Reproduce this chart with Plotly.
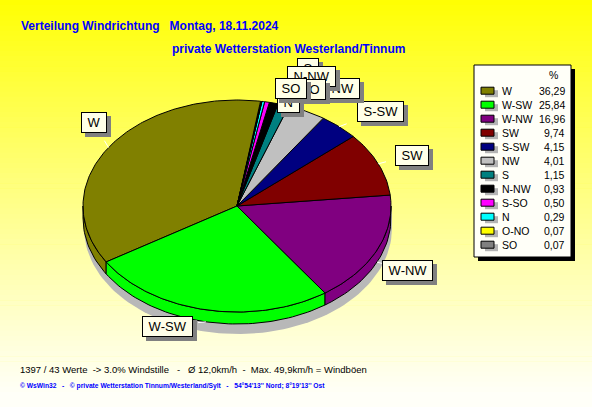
import numpy as np
import plotly.graph_objects as go

# ---------------- data ----------------
directions = ["W", "W-SW", "W-NW", "SW", "S-SW", "NW", "S", "N-NW", "S-SO", "N", "O-NO", "SO"]
percent = [36.29, 25.84, 16.96, 9.74, 4.15, 4.01, 1.15, 0.93, 0.50, 0.29, 0.07, 0.07]
colors = ["#808000", "#00FF00", "#800080", "#800000", "#000080", "#C0C0C0",
          "#008080", "#000000", "#FF00FF", "#00FFFF", "#FFFF00", "#808080"]
value_labels = ["36,29", "25,84", "16,96", "9,74", "4,15", "4,01",
                "1,15", "0,93", "0,50", "0,29", "0,07", "0,07"]

title_text = "Verteilung Windrichtung   Montag, 18.11.2024"
subtitle_text = "private Wetterstation Westerland/Tinnum"
footer1 = "1397 / 43 Werte  -> 3.0% Windstille   -   Ø 12,0km/h  -  Max. 49,9km/h = Windböen"
footer2 = "© WsWin32   -   © private Wetterstation Tinnum/Westerland/Sylt   -   54°54'13'' Nord; 8°19'13'' Ost"

# ---------------- layout constants ----------------
W, H = 592, 407
CX, CY, RX, RY, DEPTH = 237, 206, 154, 106, 12
START = 81.2

# label box positions (centre, pixel coords) and drawing order (back to front)
label_pos = {
    "S": (308, 68), "NW": (342, 88), "N-NW": (311, 76), "O-NO": (302, 89),
    "N": (288, 102), "SO": (290.5, 88.5),
    "W": (93.5, 122.5), "W-SW": (167, 326), "W-NW": (407.5, 270),
    "SW": (411.5, 155), "S-SW": (380, 111),
}
label_order = ["W", "W-SW", "W-NW", "SW", "S-SW", "S", "NW", "N-NW", "O-NO", "N", "SO"]


def ell(t_deg, dy=0.0, ox=0.0, oy=0.0):
    t = np.radians(t_deg)
    return CX + ox + RX * np.cos(t), CY + oy + dy - RY * np.sin(t)


fig = go.Figure()

# background gradient (bands)
shapes = []
nb = 80
for i in range(nb):
    f = (i + 0.5) / nb
    b = int(round(min(248, 255 * f ** 0.9)))
    shapes.append(dict(type="rect", xref="x", yref="y", x0=0, x1=W,
                       y0=H * i / nb, y1=H * (i + 1) / nb + 0.6,
                       fillcolor=f"rgb(255,255,{b})", line=dict(width=0), layer="below"))

# pie shadow
tt = np.linspace(0, 180, 90)
xs1, ys1 = ell(tt, 0, 1, 10)
tt2 = np.linspace(180, 360, 90)
xs2, ys2 = ell(tt2, DEPTH, 1, 10)
fig.add_trace(go.Scatter(x=np.r_[xs1, xs2], y=np.r_[ys1, ys2], fill="toself",
                         fillcolor="#B8B8B8", line=dict(width=0), mode="lines",
                         hoverinfo="skip", showlegend=False))

# slice angles
total = sum(percent)
angles = []
a = START
for p in percent:
    span = 360 * p / total
    angles.append((a, a + span))
    a += span

# sides (front half)
for (a0, a1), col in zip(angles, colors):
    for lo, hi in [(180, 360), (540, 720)]:
        s, e = max(a0, lo), min(a1, hi)
        if e > s:
            n = max(3, int((e - s) / 1.5))
            t = np.linspace(s, e, n)
            xt, yt = ell(t)
            xb, yb = ell(t[::-1], DEPTH)
            fig.add_trace(go.Scatter(x=np.r_[xt, xb, xt[:1]], y=np.r_[yt, yb, yt[:1]],
                                     fill="toself", fillcolor=col, mode="lines",
                                     line=dict(color="black", width=1),
                                     hoverinfo="skip", showlegend=False))

# top surfaces
for (a0, a1), col in zip(angles, colors):
    n = max(3, int((a1 - a0) / 1.0))
    t = np.linspace(a0, a1, n)
    xt, yt = ell(t)
    fig.add_trace(go.Scatter(x=np.r_[CX, xt, CX], y=np.r_[CY, yt, CY],
                             fill="toself", fillcolor=col, mode="lines",
                             line=dict(color="black", width=1),
                             hoverinfo="skip", showlegend=False))

annotations = []
label_font = dict(family="Liberation Sans, Arial, sans-serif", size=13, color="black")

# white leader lines for the big labels
for name in ["W", "W-SW", "W-NW", "SW", "S-SW"]:
    i = directions.index(name)
    mid = (angles[i][0] + angles[i][1]) / 2
    px, py = ell(mid, DEPTH if np.sin(np.radians(mid)) < 0 else 0)
    lx, ly = label_pos[name]
    dx, dy = lx - px, ly - py
    d = np.hypot(dx, dy)
    shapes.append(dict(type="line", xref="x", yref="y", x0=px, y0=py,
                       x1=px + dx / d * 8, y1=py + dy / d * 8,
                       line=dict(color="white", width=1)))

# slice labels with shadows
for name in label_order:
    x, y = label_pos[name]
    txt = "\u00a0" + name + "\u00a0"
    annotations.append(dict(x=x, y=y, xref="x", yref="y", text=txt, showarrow=False,
                            font=dict(label_font, color="#808080"), bgcolor="#808080",
                            bordercolor="#808080", borderwidth=1, borderpad=2,
                            xshift=4, yshift=-4))
    annotations.append(dict(x=x, y=y, xref="x", yref="y", text=txt, showarrow=False,
                            font=label_font, bgcolor="#FFFFE8",
                            bordercolor="black", borderwidth=1, borderpad=2))

# legend box
LX0, LY0, LX1, LY1 = 474, 65, 571, 257
shapes.append(dict(type="rect", xref="x", yref="y", x0=LX0 + 4, y0=LY0 + 4, x1=LX1 + 4, y1=LY1 + 4,
                   fillcolor="black", line=dict(width=0)))
shapes.append(dict(type="rect", xref="x", yref="y", x0=LX0, y0=LY0, x1=LX1, y1=LY1,
                   fillcolor="#FFFFF8", line=dict(color="black", width=1)))
leg_font = dict(family="Liberation Sans, Arial, sans-serif", size=10.5, color="black")
annotations.append(dict(x=553, y=75, xref="x", yref="y", text="%", showarrow=False,
                        font=leg_font, xanchor="center", yanchor="middle"))
for i, (name, col, val) in enumerate(zip(directions, colors, value_labels)):
    yc = 90.7 + 14 * i
    shapes.append(dict(type="rect", xref="x", yref="y", x0=485, x1=498, y0=yc - 0.5, y1=yc + 6.5,
                       fillcolor="#B4B4B4", line=dict(width=0)))
    shapes.append(dict(type="rect", xref="x", yref="y", x0=481, x1=494, y0=yc - 3.5, y1=yc + 3.5,
                       fillcolor=col, line=dict(color="black", width=1)))
    annotations.append(dict(x=500, y=yc, xref="x", yref="y", text=name, showarrow=False,
                            font=leg_font, xanchor="left", yanchor="middle"))
    annotations.append(dict(x=567, y=yc, xref="x", yref="y", text=val, showarrow=False,
                            font=leg_font, xanchor="right", yanchor="middle"))

# titles & footers
annotations.append(dict(x=19, y=26, xref="x", yref="y", text=title_text, showarrow=False,
                        font=dict(family="Liberation Sans, Arial, sans-serif",
                                  size=12, color="#0000FF", weight="bold"),
                        xanchor="left", yanchor="middle"))
annotations.append(dict(x=170, y=49, xref="x", yref="y", text=subtitle_text, showarrow=False,
                        font=dict(family="Liberation Sans, Arial, sans-serif",
                                  size=12, color="#0000FF", weight="bold"),
                        xanchor="left", yanchor="middle"))
annotations.append(dict(x=18, y=369, xref="x", yref="y", text=footer1, showarrow=False,
                        font=dict(family="Liberation Sans, Arial, sans-serif",
                                  size=9.5, color="black"),
                        xanchor="left", yanchor="middle"))
annotations.append(dict(x=18, y=386, xref="x", yref="y", text=footer2, showarrow=False,
                        font=dict(family="Liberation Sans, Arial, sans-serif",
                                  size=6.7, color="#0000FF", weight="bold"),
                        xanchor="left", yanchor="middle"))

fig.update_layout(
    width=W, height=H, margin=dict(l=0, r=0, t=0, b=0),
    paper_bgcolor="#FFFF00", plot_bgcolor="rgba(0,0,0,0)",
    xaxis=dict(range=[0, W], visible=False, fixedrange=True),
    yaxis=dict(range=[H, 0], visible=False, fixedrange=True),
    shapes=shapes, annotations=annotations, showlegend=False,
)

fig.write_html("out.html", config={"displayModeBar": False},
               post_script="document.body.style.margin='0';")
